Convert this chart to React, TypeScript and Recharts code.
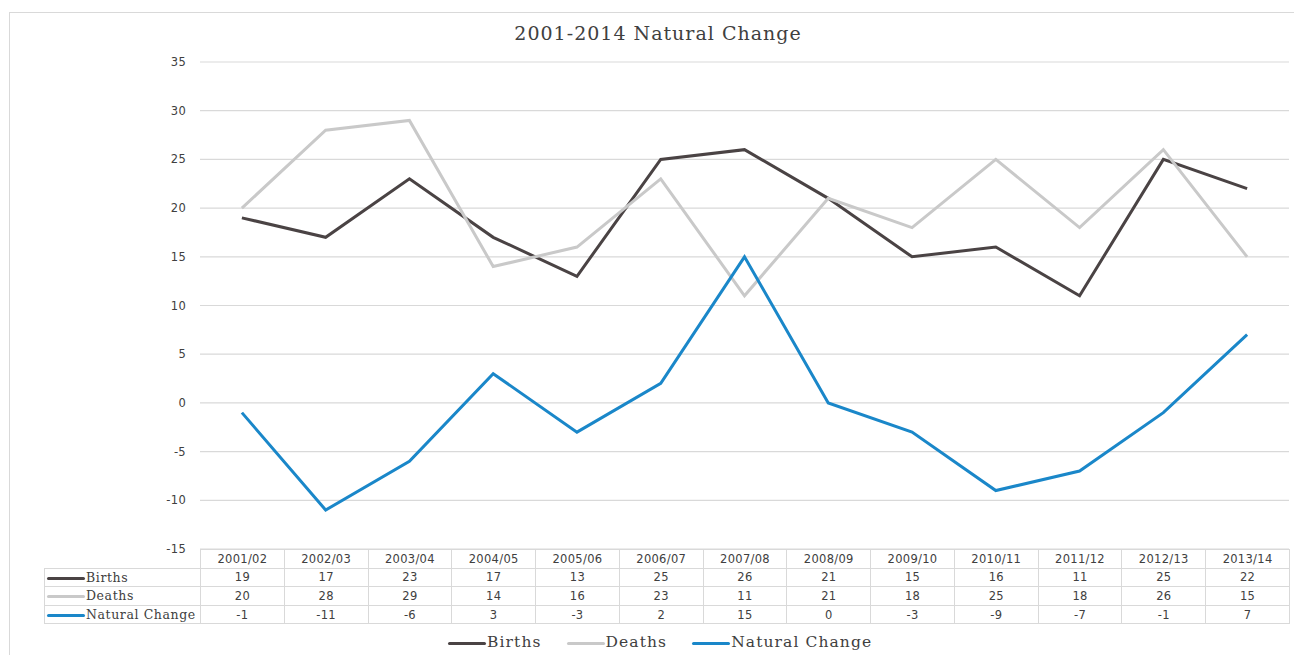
import { CartesianGrid, Line, LineChart, XAxis, YAxis } from "recharts";

const categories = [
  "2001/02", "2002/03", "2003/04", "2004/05", "2005/06", "2006/07", "2007/08",
  "2008/09", "2009/10", "2010/11", "2011/12", "2012/13", "2013/14",
];
const births = [19, 17, 23, 17, 13, 25, 26, 21, 15, 16, 11, 25, 22];
const deaths = [20, 28, 29, 14, 16, 23, 11, 21, 18, 25, 18, 26, 15];
const naturalChange = [-1, -11, -6, 3, -3, 2, 15, 0, -3, -9, -7, -1, 7];
const yTicks = [-15, -10, -5, 0, 5, 10, 15, 20, 25, 30, 35];

const series = [
  { key: "births", name: "Births", color: "#4a4344", values: births },
  { key: "deaths", name: "Deaths", color: "#c9c9c9", values: deaths },
  { key: "natural", name: "Natural Change", color: "#1a87c9", values: naturalChange },
];

const rows = categories.map((c, i) => ({
  name: c,
  births: births[i],
  deaths: deaths[i],
  natural: naturalChange[i],
}));

const SERIF = "'DejaVu Serif', serif";
const SANS = "'DejaVu Sans', sans-serif";
const GRID = "#d9d9d9";

const PLOT_LEFT = 200;
const PLOT_RIGHT = 1289;
const COL_W = (PLOT_RIGHT - PLOT_LEFT) / categories.length;

function Key({ color }: { color: string }) {
  return (
    <span
      style={{
        display: "inline-block",
        width: 38,
        height: 3,
        background: color,
        borderRadius: 2,
        verticalAlign: "middle",
        marginRight: 1,
      }}
    />
  );
}

function DataTable() {
  const cell: React.CSSProperties = {
    border: `1px solid ${GRID}`,
    textAlign: "center",
    fontFamily: SANS,
    fontSize: 11.5,
    letterSpacing: 0.3,
    color: "#404040",
    padding: 0,
    height: 18.6,
    width: COL_W,
    boxSizing: "border-box",
  };
  return (
    <table
      style={{
        position: "absolute",
        left: 44,
        top: 549,
        borderCollapse: "collapse",
        tableLayout: "fixed",
        width: PLOT_RIGHT - 44,
      }}
    >
      <colgroup>
        <col style={{ width: PLOT_LEFT - 44 }} />
        {categories.map((c) => (
          <col key={c} style={{ width: COL_W }} />
        ))}
      </colgroup>
      <tbody>
        <tr>
          <td style={{ border: "none", padding: 0 }} />
          {categories.map((c) => (
            <td key={c} style={cell}>{c}</td>
          ))}
        </tr>
        {series.map((s) => (
          <tr key={s.key}>
            <td
              style={{
                ...cell,
                textAlign: "left",
                fontFamily: SERIF,
                fontSize: 12.5,
                letterSpacing: 0.6,
                whiteSpace: "nowrap",
                paddingLeft: 2,
              }}
            >
              <Key color={s.color} />
              {s.name}
            </td>
            {s.values.map((v, i) => (
              <td key={i} style={cell}>{v}</td>
            ))}
          </tr>
        ))}
      </tbody>
    </table>
  );
}

export default function App() {
  return (
    <div
      style={{
        position: "absolute",
        left: 0,
        top: 0,
        width: 1294,
        height: 655,
        overflow: "hidden",
        background: "#fff",
      }}
    >
      <div
        style={{
          position: "absolute",
          left: 9,
          top: 12,
          width: 1300,
          height: 700,
          border: `1px solid ${GRID}`,
        }}
      />
      <div
        style={{
          position: "absolute",
          left: 0,
          width: 1316,
          top: 22,
          textAlign: "center",
          fontFamily: SERIF,
          fontSize: 19,
          letterSpacing: 1,
          color: "#404040",
        }}
      >
        2001-2014 Natural Change
      </div>
      <div style={{ position: "absolute", left: 0, top: 0 }}>
        <LineChart
          width={1294}
          height={655}
          data={rows}
          margin={{ top: 62, right: 1294 - PLOT_RIGHT, bottom: 655 - 549, left: 140 }}
        >
          <CartesianGrid vertical={false} stroke={GRID} strokeWidth={1.2} />
          <XAxis
            dataKey="name"
            hide
            padding={{ left: COL_W / 2, right: COL_W / 2 }}
          />
          <YAxis
            width={60}
            domain={[-15, 35]}
            ticks={yTicks}
            interval={0}
            axisLine={false}
            tickLine={false}
            tickMargin={8}
            tick={{ fontSize: 11.5, fill: "#404040", fontFamily: SANS, letterSpacing: 0.3 }}
          />
          {series.map((s) => (
            <Line
              key={s.key}
              dataKey={s.key}
              name={s.name}
              type="linear"
              stroke={s.color}
              strokeWidth={3}
              dot={false}
              isAnimationActive={false}
            />
          ))}
        </LineChart>
      </div>
      <DataTable />
      <div
        style={{
          position: "absolute",
          left: 448,
          top: 633,
          display: "flex",
          gap: 25,
          fontFamily: SERIF,
          fontSize: 15.5,
          letterSpacing: 1.1,
          color: "#404040",
          whiteSpace: "nowrap",
        }}
      >
        {series.map((s) => (
          <span key={s.key}>
            <Key color={s.color} />
            {s.name}
          </span>
        ))}
      </div>
    </div>
  );
}
